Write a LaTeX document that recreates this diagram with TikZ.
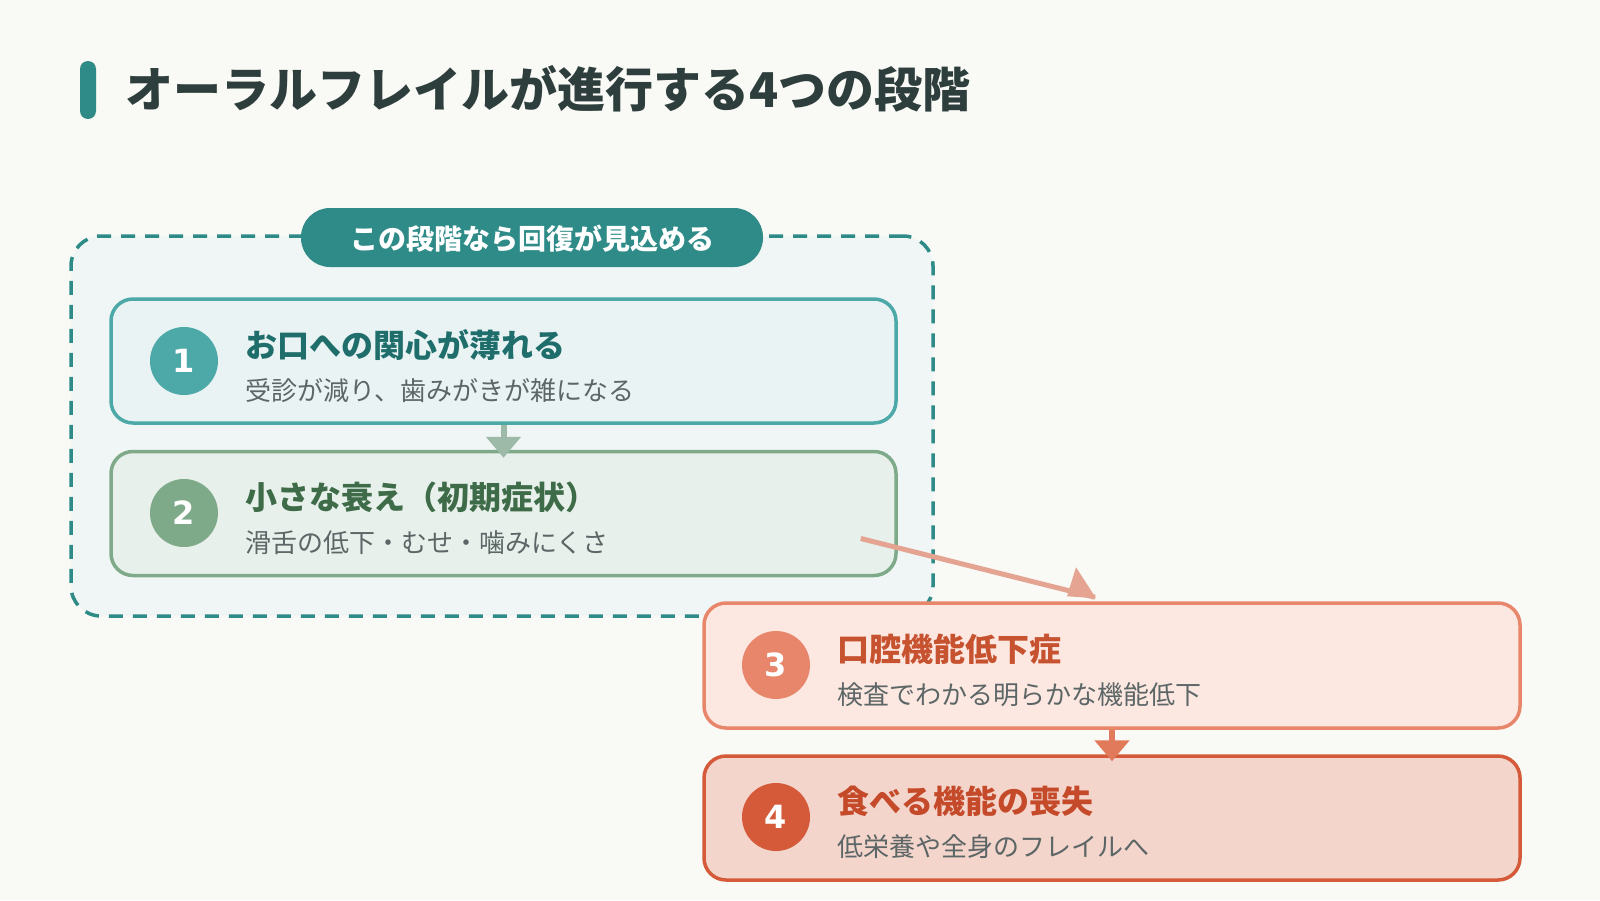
\documentclass[tikz,border=0pt]{standalone}
\usepackage{fontspec}
\setmainfont{Noto Sans CJK JP}
\newfontfamily\numfont{DejaVu Sans}
\usetikzlibrary{arrows.meta,calc}
\definecolor{bg}{HTML}{F9F9F5}
\definecolor{teal}{HTML}{2E8B87}
\definecolor{ttxt}{HTML}{2D3E3D}
\definecolor{grpfill}{HTML}{F0F6F6}
\definecolor{subtxt}{HTML}{5C6666}
\definecolor{cA}{HTML}{4DA8A8}\definecolor{fA}{HTML}{EAF3F4}\definecolor{tA}{HTML}{1F6E6B}
\definecolor{cB}{HTML}{7FAA8A}\definecolor{fB}{HTML}{E7F0EA}\definecolor{tB}{HTML}{3E6B48}
\definecolor{cC}{HTML}{E8866C}\definecolor{fC}{HTML}{FCE8E1}\definecolor{tC}{HTML}{C7522F}
\definecolor{cD}{HTML}{D45A3A}\definecolor{fD}{HTML}{F3D5CB}\definecolor{tD}{HTML}{C44A2A}
\definecolor{arAB}{HTML}{9DB9A8}
\definecolor{arBC}{HTML}{E4A491}
\definecolor{arCD}{HTML}{E07A5A}
\begin{document}
\begin{tikzpicture}[x=1pt,y=-1pt,
  stagebox/.style={draw=#1, line width=3.5pt, rounded corners=22pt, minimum width=785pt, minimum height=124pt, inner sep=0pt},
  numcirc/.style={circle, fill=#1, minimum size=68pt, inner sep=0pt, text=white, font=\numfont\fontsize{32}{36}\selectfont\bfseries},
  headtxt/.style={anchor=base west, inner sep=0pt, text=#1, font=\fontsize{32}{38}\selectfont\bfseries},
  subtext/.style={anchor=base west, inner sep=0pt, text=subtxt, font=\fontsize{26}{30}\selectfont},
  vconn/.style={draw=#1, line width=6pt, -{Triangle[length=21pt,width=34pt]}}
]
\useasboundingbox (0,0) rectangle (1600,900);
\fill[bg] (0,0) rectangle (1600,900);

% title
\node[fill=teal, rounded corners=8pt, minimum width=16pt, minimum height=58pt, inner sep=0pt] (bar) at (88,90) {};
\node[anchor=base west, inner sep=0pt, text=ttxt, font=\fontsize{48}{56}\selectfont\bfseries] (title) at (125,107) {オーラルフレイルが進行する4つの段階};

% recoverable group
\node[draw=teal, fill=grpfill, line width=3.5pt, dash pattern=on 14pt off 10pt, rounded corners=30pt, minimum width=862pt, minimum height=380pt, inner sep=0pt] (grp) at (502,426) {};
\node[fill=teal, rounded corners=29pt, minimum width=462pt, minimum height=59pt, inner sep=0pt] (pill) at (532,237.5) {};
\node[anchor=base, inner sep=0pt, text=white, font=\fontsize{28}{32}\selectfont\bfseries] (pilltxt) at (532,249) {この段階なら回復が見込める};

% stage 1
\node[stagebox=cA, fill=fA] (b1) at (503.5,361) {};
\node[numcirc=cA] (n1) at (184,361) {1};
\node[headtxt=tA] (t1) at (245,357) {お口への関心が薄れる};
\node[subtext] (s1) at (245,400) {受診が減り、歯みがきが雑になる};

% stage 2
\node[stagebox=cB, fill=fB] (b2) at (503.5,513.5) {};
\node[numcirc=cB] (n2) at (184,513) {2};
\node[headtxt=tB] (t2) at (245,509) {小さな衰え（初期症状）};
\node[subtext] (s2) at (245,552) {滑舌の低下・むせ・噛みにくさ};

% stage 3
\node[stagebox=cC, fill=fC, minimum width=816pt, minimum height=125pt] (b3) at (1112,665.5) {};
\node[numcirc=cC] (n3) at (776,665) {3};
\node[headtxt=tC] (t3) at (837,661) {口腔機能低下症};
\node[subtext] (s3) at (837,704) {検査でわかる明らかな機能低下};

% stage 4
\node[stagebox=cD, fill=fD, minimum width=816pt] (b4) at (1112,818) {};
\node[numcirc=cD] (n4) at (776,817) {4};
\node[headtxt=tD] (t4) at (837,813) {食べる機能の喪失};
\node[subtext] (s4) at (837,856) {低栄養や全身のフレイルへ};

% connectors
\draw[vconn=arAB] (b1.south) -- ($(b2.north)+(0,8)$);
\draw[vconn=arCD] (b3.south) -- ($(b4.north)+(0,7)$);
\coordinate (dA) at ($(b2.east)+(-37,25)$);
\coordinate (dB) at ($(b3.north)+(-17,-4)$);
\draw[arBC, line width=5pt] (dA) -- (dB);
\fill[arBC] ($(dB)+(1,1)$) -- ($(dB)+(-28,-1)$) -- ($(dB)+(-19,-30)$) -- cycle;
\end{tikzpicture}
\end{document}
